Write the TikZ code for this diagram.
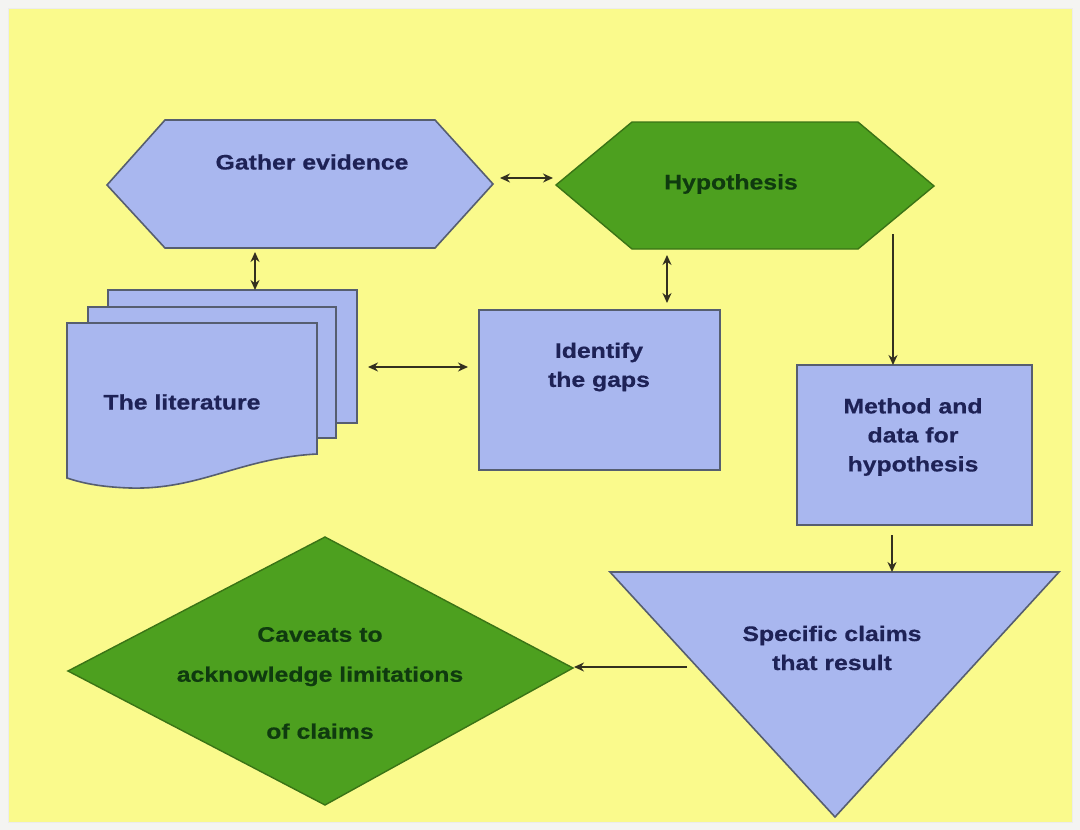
\documentclass[tikz,border=0pt]{standalone}
\usepackage{fontspec}
\setmainfont{Liberation Sans}[FakeStretch=1.18,BoldFeatures={FakeBold=0.6}]
\usetikzlibrary{arrows.meta}
\definecolor{bgyellow}{HTML}{FAFA8C}
\definecolor{outerbg}{HTML}{F4F4F2}
\definecolor{bluefill}{HTML}{A9B7EF}
\definecolor{blueedge}{HTML}{565E70}
\definecolor{bluetext}{HTML}{1E2256}
\definecolor{greenfill}{HTML}{4DA01F}
\definecolor{greenedge}{HTML}{3A7416}
\definecolor{greentext}{HTML}{0F3A0F}
\definecolor{arrowcol}{HTML}{33301F}
\begin{document}
\begin{tikzpicture}[x=1pt,y=-1pt,
  bluebox/.style={fill=bluefill,draw=blueedge,line width=1.6pt,line join=miter},
  greenbox/.style={fill=greenfill,draw=greenedge,line width=1.4pt,line join=miter},
  bluelabel/.style={text=bluetext,font=\fontsize{21}{29}\selectfont\bfseries,align=center,inner sep=0pt},
  greenlabel/.style={text=greentext,font=\fontsize{21}{29}\selectfont\bfseries,align=center,inner sep=0pt},
  link/.style={draw=arrowcol,line width=1.5pt},
  both/.style={link,{Stealth[length=10pt,width=9pt]}-{Stealth[length=10pt,width=9pt]}},
  one/.style={link,-{Stealth[length=10pt,width=9pt]}}]
\useasboundingbox (0,0) rectangle (1080,830);
\fill[outerbg] (0,0) rectangle (1080,830);
\filldraw[fill=bgyellow,draw=white!85!gray,line width=1pt] (8,8) rectangle (1072,822);

% Gather evidence hexagon
\path[bluebox] (107,185) -- (165,120) -- (435,120) -- (493,184) -- (435,248) -- (165,248) -- cycle;
\node[bluelabel] (gather) at (312,162) {Gather evidence};

% Hypothesis hexagon
\path[greenbox] (556,185) -- (632,122) -- (858,122) -- (934,186) -- (858,249) -- (632,249) -- cycle;
\node[greenlabel] (hyp) at (731,184) {Hypothesis};

% The literature (multi-document)
\path[bluebox] (108,290) rectangle (357,423);
\path[bluebox] (88,307) rectangle (336,438);
\path[bluebox] (67,478) -- (67,323) -- (317,323) -- (317,454)
  .. controls (240,458) and (200,490) .. (130,488)
  .. controls (100,487) and (82,483) .. (67,478) -- cycle;
\node[bluelabel] (lit) at (182,402) {The literature};

% Identify the gaps
\path[bluebox] (479,310) rectangle (720,470);
\node[bluelabel] (gaps) at (599,367) {Identify\\the gaps};

% Method and data
\path[bluebox] (797,365) rectangle (1032,525);
\node[bluelabel] (method) at (913,437) {Method and\\data for\\hypothesis};

% Specific claims triangle
\path[bluebox] (610,572) -- (1059,572) -- (835,817) -- cycle;
\node[bluelabel] (claims) at (832,648) {Specific claims\\that result};

% Caveats diamond
\path[greenbox] (68,671) -- (325,537) -- (573,668) -- (325,805) -- cycle;
\node[greenlabel] (caveats) at (320,683) {Caveats to\\[11pt]acknowledge limitations\\[28pt]of claims};

% connector end points
\coordinate (gR) at (500,178);
\coordinate (hL) at (553,178);
\coordinate (gB) at (255,252);
\coordinate (litT) at (255,290);
\coordinate (hB) at (667,255);
\coordinate (gapsT) at (667,303);
\coordinate (litR) at (368,367);
\coordinate (gapsL) at (468,367);
\coordinate (hR) at (893,234);
\coordinate (methodT) at (893,365);
\coordinate (methodB) at (892,535);
\coordinate (claimsT) at (892,572);
\coordinate (claimsL) at (687,667);
\coordinate (caveatsR) at (574,667);

\draw[both] (gR) -- (hL);
\draw[both] (gB) -- (litT);
\draw[both] (hB) -- (gapsT);
\draw[both] (litR) -- (gapsL);
\draw[one] (hR) -- (methodT);
\draw[one] (methodB) -- (claimsT);
\draw[one] (claimsL) -- (caveatsR);
\end{tikzpicture}
\end{document}
